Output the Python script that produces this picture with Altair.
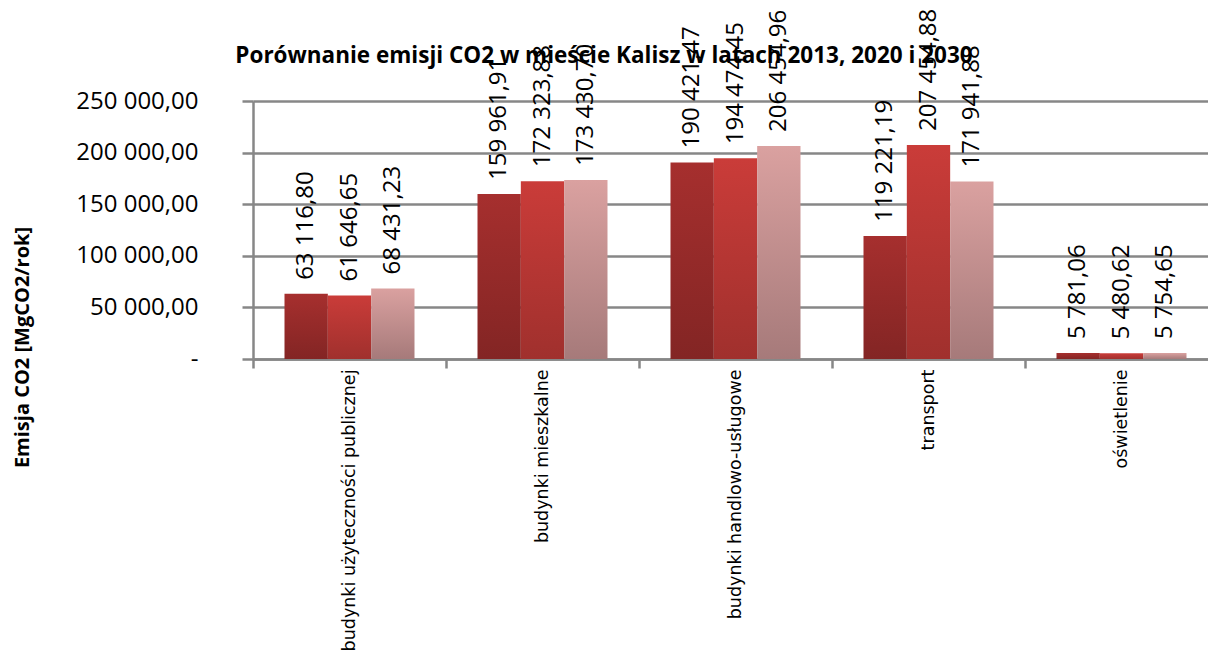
import altair as alt
import pandas as pd

categories = [
    "budynki użyteczności publicznej",
    "budynki mieszkalne",
    "budynki handlowo-usługowe",
    "transport",
    "oświetlenie",
]
years = ["2013", "2020", "2030"]
v2013 = [63116.80, 159961.91, 190421.47, 119221.19, 5781.06]
v2020 = [61646.65, 172323.88, 194474.45, 207454.88, 5480.62]
v2030 = [68431.23, 173430.70, 206454.96, 171941.88, 5754.65]
y_ticks = [0, 50000, 100000, 150000, 200000, 250000]

title_text = ["Porównanie emisji CO2 w mieście Kalisz w latach 2013, 2020 i 2030"]
y_title = "Emisja CO2 [MgCO2/rok]"

gradients = {
    "2013": ("#A62F2E", "#832524"),
    "2020": ("#CA3C39", "#A0302D"),
    "2030": ("#DAA1A0", "#A67A7A"),
}


def fmt(v):
    return f"{v:,.2f}".replace(",", " ").replace(".", ",")


rows = []
for yr, vals in zip(years, [v2013, v2020, v2030]):
    for c, v in zip(categories, vals):
        rows.append({"kategoria": c, "rok": yr, "wartosc": v, "etykieta": fmt(v)})
df = pd.DataFrame(rows)

GRID = "#878787"

x_enc = alt.X(
    "kategoria:N",
    sort=categories,
    scale=alt.Scale(range=[0, 965], paddingInner=0, paddingOuter=0),
    axis=alt.Axis(
        title=None,
        tickBand="extent",
        tickSize=9,
        tickColor=GRID,
        tickWidth=2.5,
        domainColor=GRID,
        domainWidth=2.5,
        labelAngle=270,
        labelAlign="right",
        labelBaseline="middle",
        labelPadding=1,
        labelFont="DejaVu Sans",
        labelFontSize=17.5,
        labelColor="black",
        labelLimit=400,
        grid=False,
    ),
)
xo_enc = alt.XOffset(
    "rok:N",
    sort=years,
    scale=alt.Scale(domain=years, paddingInner=0, paddingOuter=0.727),
)
y_enc = alt.Y(
    "wartosc:Q",
    scale=alt.Scale(domain=[0, 250000], nice=False),
    axis=alt.Axis(
        values=y_ticks,
        labelExpr="datum.value == 0 ? '-' : replace(replace(format(datum.value, ',.2f'), regexp(',', 'g'), ' '), '.', ',')",
        labelFont="Open Sans",
        labelFontSize=24,
        labelColor="black",
        labelPadding=44,
        tickSize=11,
        tickColor=GRID,
        tickWidth=2.5,
        domainColor=GRID,
        domainWidth=2.5,
        grid=True,
        gridColor=GRID,
        gridWidth=2.5,
        title=y_title,
        titleFont="Open Sans",
        titleFontSize=20,
        titleFontWeight="bold",
        titleColor="black",
        titleAngle=270,
        titleAlign="center",
        titleBaseline="middle",
        titleX=-231,
        titleY=246,
    ),
)

layers = []
for yr in years:
    top, bot = gradients[yr]
    layers.append(
        alt.Chart(df)
        .transform_filter(alt.datum.rok == yr)
        .mark_bar(
            color=alt.Gradient(
                gradient="linear",
                x1=0, y1=0, x2=0, y2=1,
                stops=[
                    alt.GradientStop(color=top, offset=0),
                    alt.GradientStop(color=bot, offset=1),
                ],
            )
        )
        .encode(x=x_enc, xOffset=xo_enc, y=y_enc)
    )

title_mark = (
    alt.Chart(pd.DataFrame({"t": title_text}))
    .mark_text(
        font="Open Sans",
        fontSize=22.5,
        fontWeight="bold",
        color="black",
        align="center",
        baseline="alphabetic",
    )
    .encode(x=alt.value(351), y=alt.value(-38), text="t:N")
)

labels = (
    alt.Chart(df)
    .mark_text(
        angle=270,
        align="left",
        baseline="middle",
        dx=14,
        font="Open Sans",
        fontSize=24,
        color="black",
    )
    .encode(x=x_enc, xOffset=xo_enc, y=y_enc, text="etykieta:N")
)

chart = (
    alt.layer(*layers, title_mark, labels)
    .properties(
        width=955,
        height=258,
        autosize=alt.AutoSizeParams(type="none"),
        padding={"left": 253, "top": 101, "right": 0, "bottom": 293},
        background="white",
    )
    .configure_view(stroke=None)
)

chart.save("out.html", embed_options={"renderer": "svg", "actions": False})
